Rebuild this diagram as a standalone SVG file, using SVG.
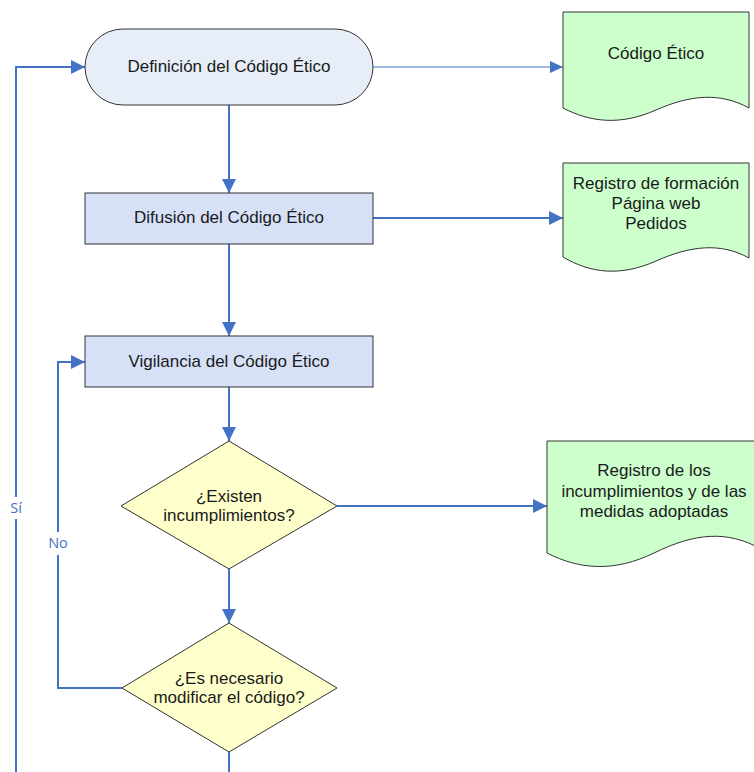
<svg xmlns="http://www.w3.org/2000/svg" width="754" height="772" viewBox="0 0 754 772">
<defs>
<marker id="arr" markerUnits="userSpaceOnUse" markerWidth="14" markerHeight="14" refX="14" refY="7" orient="auto">
<path d="M0,0 L14,7 L0,14 Z" fill="#4472C4"/>
</marker>
<marker id="arrs" markerUnits="userSpaceOnUse" markerWidth="13" markerHeight="12" refX="13" refY="6" orient="auto">
<path d="M0,0 L13,6 L0,12 Z" fill="#4472C4"/>
</marker>
<style>
.t{font-family:"Liberation Sans",Arial,sans-serif;font-size:17px;fill:#1a1a1a;text-anchor:middle}
.lb{font-family:"Open Sans","Noto Sans",sans-serif;font-size:14.5px;fill:#4472C4;text-anchor:middle}
.c{fill:none;stroke:#4472C4;stroke-width:2}
.c1{fill:none;stroke:#4472C4;stroke-width:1}
.term{fill:#E8EEF8;stroke:#333;stroke-width:1}
.proc{fill:#D6E1F8;stroke:#333;stroke-width:1}
.dec{fill:#FFFFCC;stroke:#333;stroke-width:1}
.doc{fill:#CCFFCC;stroke:#333;stroke-width:1}
</style>
</defs>
<rect width="754" height="772" fill="#fff"/>
<g id="connectors">
<path class="c" d="M16,772 V67 H85" marker-end="url(#arr)"/>
<path class="c1" d="M373,67 H563" marker-end="url(#arrs)"/>
<path class="c" d="M229,105 V193" marker-end="url(#arr)"/>
<path class="c" d="M373,218 H563" marker-end="url(#arr)"/>
<path class="c" d="M229,244 V336" marker-end="url(#arr)"/>
<path class="c" d="M229,387 V441" marker-end="url(#arr)"/>
<path class="c" d="M337,506 H547" marker-end="url(#arr)"/>
<path class="c" d="M229,569 V623" marker-end="url(#arr)"/>
<path class="c" d="M122,688 H58 V362 H85" marker-end="url(#arr)"/>
<path class="c" d="M229,752 V772"/>
<rect x="6" y="497" width="20" height="22" fill="#fff"/>
<text class="lb" x="16" y="513">Sí</text>
<rect x="46" y="532" width="24" height="23" fill="#fff"/>
<text class="lb" x="58" y="548">No</text>
</g>
<g id="n-definicion">
<rect class="term" x="85" y="29" width="288" height="76" rx="38" ry="38"/>
<text class="t" x="229" y="72">Definición del Código Ético</text>
</g>
<g id="n-difusion">
<rect class="proc" x="85" y="193" width="288" height="51"/>
<text class="t" x="229" y="223">Difusión del Código Ético</text>
</g>
<g id="n-vigilancia">
<rect class="proc" x="85" y="336" width="288" height="51"/>
<text class="t" x="229" y="367">Vigilancia del Código Ético</text>
</g>
<g id="n-existen">
<path class="dec" d="M229,441 L337,506 L229,569 L121,506 Z"/>
<text class="t" x="229" y="502">¿Existen</text>
<text class="t" x="229" y="521">incumplimientos?</text>
</g>
<g id="n-modificar">
<path class="dec" d="M229,623 L337,688 L229,752 L122,688 Z"/>
<text class="t" x="229" y="684">¿Es necesario</text>
<text class="t" x="229" y="703">modificar el código?</text>
</g>
<g id="d-codigo">
<path class="doc" d="M563,12 H749 V108 C720,92 690,95 656,110 C620,126 590,122 563,108 Z"/>
<text class="t" x="656" y="59">Código Ético</text>
</g>
<g id="d-registro-formacion">
<path class="doc" d="M563,163 H749 V258 C720,242 690,246 656,261 C620,277 590,273 563,257 Z"/>
<text class="t" x="656" y="189">Registro de formación</text>
<text class="t" x="656" y="209">Página web</text>
<text class="t" x="656" y="229">Pedidos</text>
</g>
<g id="d-registro-incumplimientos">
<path class="doc" d="M547,441 H761 V549 C727,530 695,533 654,553 C615,572 580,570 547,553 Z"/>
<text class="t" x="654" y="476">Registro de los</text>
<text class="t" x="654" y="497">incumplimientos y de las</text>
<text class="t" x="654" y="517">medidas adoptadas</text>
</g>
</svg>
